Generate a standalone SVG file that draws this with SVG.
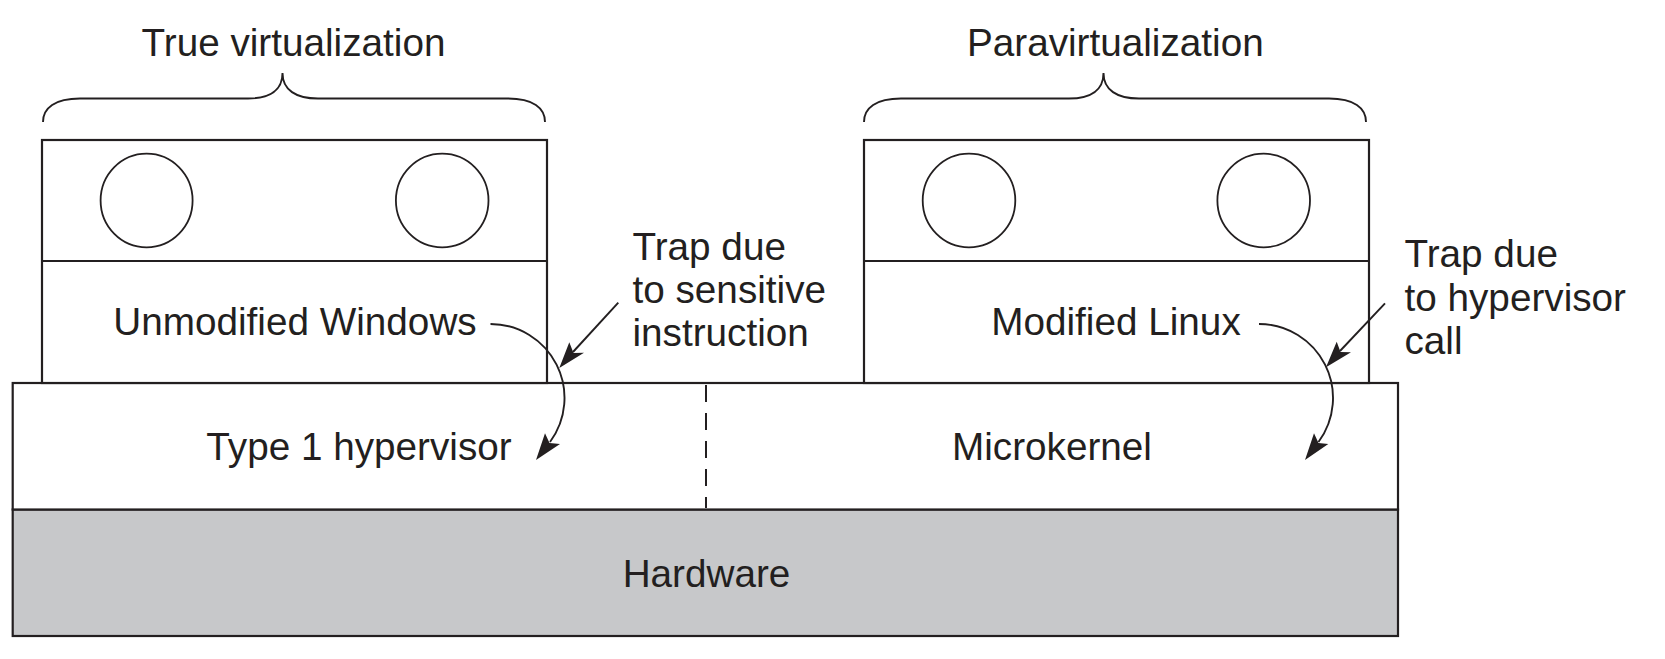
<svg xmlns="http://www.w3.org/2000/svg" width="1665" height="659" viewBox="0 0 1665 659">
<style>
.box{fill:#ffffff;stroke:#231f20;stroke-width:2.2}
.hw{fill:#c7c8ca;stroke:#231f20;stroke-width:2.2}
.ln{fill:none;stroke:#231f20;stroke-width:2.2}
.circ{fill:#ffffff;stroke:#231f20;stroke-width:1.8}
.brace{fill:none;stroke:#231f20;stroke-width:1.9}
.conn{fill:none;stroke:#231f20;stroke-width:1.9}
.head{fill:#231f20;stroke:none}
.dash{fill:none;stroke:#231f20;stroke-width:2;stroke-dasharray:17 11}
text{font-family:"Liberation Sans",Arial,Helvetica,sans-serif;font-size:38.7px;fill:#231f20}
.mid{text-anchor:middle}
</style>
<rect width="1665" height="659" fill="#ffffff"/>
<g id="hardware">
<rect class="hw" x="12.7" y="509.5" width="1385.3" height="126.5"/>
<text class="mid" x="706.5" y="587">Hardware</text>
</g>
<g id="hypervisor-layer">
<rect class="box" x="12.7" y="383" width="1385.3" height="126.5"/>
<line class="dash" x1="706" y1="385" x2="706" y2="508"/>
<text class="mid" x="359" y="460">Type 1 hypervisor</text>
<text class="mid" x="1052" y="460">Microkernel</text>
</g>
<g id="vm-windows">
<rect class="box" x="42" y="140" width="505" height="243"/>
<line class="ln" x1="42" y1="261" x2="547" y2="261"/>
<ellipse class="circ" cx="146.6" cy="200.5" rx="46" ry="46.8"/>
<ellipse class="circ" cx="442.2" cy="200.5" rx="46.3" ry="46.8"/>
<text class="mid" x="295" y="335">Unmodified Windows</text>
</g>
<g id="vm-linux">
<rect class="box" x="864" y="140" width="505" height="243"/>
<line class="ln" x1="864" y1="261" x2="1369" y2="261"/>
<ellipse class="circ" cx="969" cy="200.5" rx="46.3" ry="46.8"/>
<ellipse class="circ" cx="1263.7" cy="200.5" rx="46.3" ry="46.8"/>
<text class="mid" x="1116" y="335">Modified Linux</text>
</g>
<g id="true-virtualization">
<path class="brace" d="M43,122 C43,108 55,98.5 80,98.5 L248,98.5 C270,98.5 282.5,90 282.5,73 C282.5,90 296,98.5 318,98.5 L508,98.5 C533,98.5 545,108 545,122"/>
<text class="mid" x="293.5" y="56">True virtualization</text>
</g>
<g id="paravirtualization">
<path class="brace" d="M864,122 C864,108 876,98.5 901,98.5 L1069,98.5 C1091,98.5 1103.5,90 1103.5,73 C1103.5,90 1117,98.5 1139,98.5 L1329,98.5 C1354,98.5 1366,108 1366,122"/>
<text class="mid" x="1115.3" y="56">Paravirtualization</text>
</g>
<g id="trap-sensitive">
<text x="632.5" y="260">Trap due</text>
<text x="632.5" y="303">to sensitive</text>
<text x="632.5" y="346">instruction</text>
</g>
<g id="trap-hypercall">
<text x="1404.5" y="266.5">Trap due</text>
<text x="1404.5" y="310.5">to hypervisor</text>
<text x="1404.5" y="354">call</text>
</g>
<g id="connectors">
<path class="conn" d="M490.5,324 A74,74 0 0 1 550,442"/>
<path class="head" d="M536,460 L545,433.3 L549.5,443 L560,444 Z"/>
<path class="conn" d="M618.3,302.7 L573,352"/>
<path class="head" d="M559.3,368 L569.3,342.3 L573.5,353 L584,352.7 Z"/>
<path class="conn" d="M1259,324 A74,74 0 0 1 1318.5,442"/>
<path class="head" d="M1305,460 L1314,433.3 L1318.5,443 L1328.3,444 Z"/>
<path class="conn" d="M1385,303.3 L1340,351"/>
<path class="head" d="M1326,367.3 L1336.7,341.7 L1340.5,352 L1351,352.3 Z"/>
</g>
</svg>
